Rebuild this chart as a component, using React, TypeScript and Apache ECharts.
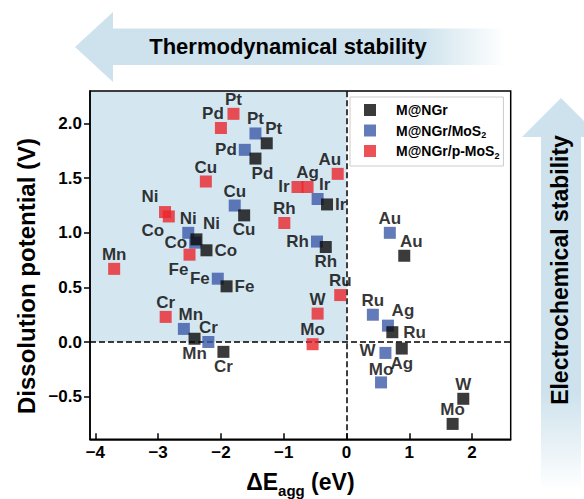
import { useEffect, useRef } from "react";
import * as echarts from "echarts";

// ΔE_agg (eV) and dissolution potential (V) of each single metal atom on three supports
const ngrMetals = ["Pt", "Pd", "Ir", "Cu", "Ni", "Co", "Rh", "Fe", "Mn", "Cr", "Au", "Ru", "Ag", "W", "Mo"];
const ngrEagg = [-1.27, -1.45, -0.31, -1.63, -2.39, -2.23, -0.33, -1.91, -2.42, -1.96, 0.92, 0.73, 0.88, 1.86, 1.69];
const ngrUdiss = [1.82, 1.68, 1.26, 1.16, 0.94, 0.84, 0.87, 0.51, 0.03, -0.09, 0.79, 0.09, -0.06, -0.52, -0.75];

const mosMetals = ["Pt", "Pd", "Ir", "Cu", "Ni", "Co", "Rh", "Fe", "Mn", "Cr", "Au", "Ru", "Ag", "W", "Mo"];
const mosEagg = [-1.45, -1.62, -0.46, -1.78, -2.52, -2.41, -0.47, -2.05, -2.59, -2.2, 0.69, 0.42, 0.66, 0.62, 0.55];
const mosUdiss = [1.91, 1.76, 1.31, 1.25, 1.0, 0.91, 0.92, 0.58, 0.12, 0.0, 1.0, 0.25, 0.15, -0.1, -0.37];

const pmosMetals = ["Pt", "Pd", "Au", "Cu", "Ir", "Ag", "Ni", "Co", "Rh", "Fe", "Mn", "Ru", "W", "Cr", "Mo"];
const pmosEagg = [-1.8, -2.0, -0.14, -2.24, -0.78, -0.62, -2.89, -2.83, -0.99, -2.5, -3.7, -0.1, -0.46, -2.88, -0.54];
const pmosUdiss = [2.09, 1.96, 1.54, 1.47, 1.42, 1.42, 1.19, 1.15, 1.09, 0.8, 0.67, 0.43, 0.26, 0.23, -0.02];

const seriesNames = ["M@NGr", "M@NGr/MoS2", "M@NGr/p-MoS2"];
const xTicks = [-4, -3, -2, -1, 0, 1, 2];
const yTicks = [-0.5, 0, 0.5, 1, 1.5, 2];

// where each element symbol is written next to its marker
const ngrTags = ["tr", "br", "r", "b", "tr2", "r", "b", "r", "b", "b", "tr", "r5", "b", "t", "t"];
const mosTags = ["t", "l", "tr", "t", "t", "l", "l", "l", "tr", "t", "t", "t", "tr2", "l2", "tin"];
const pmosTags = ["t", "tl", "tl", "t", "l", "t", "tl2", "bl", "t", "bl2", "t", "t", "t", "t", "t"];

const FONT = "'Liberation Sans', Arial, sans-serif";
const COLORS = ["#0a0a0a", "#3c5aa8", "#e8262c"];
const SHADE = "#d4e6f0";
const ARROW = "#cde2ec";

const placements: Record<string, any> = {
  t: { position: "top", distance: 0 },
  tin: { position: "top", distance: -2 },
  b: { position: "bottom", distance: 0 },
  l: { position: "left", distance: 2 },
  l2: { position: "left", distance: 4, offset: [0, -2] },
  r: { position: "right", distance: 2 },
  r5: { position: "right", distance: 5 },
  tr: { position: "top", distance: 0, offset: [7, 0] },
  tr2: { position: "top", distance: 1, offset: [15, 0] },
  tl: { position: "top", distance: 0, offset: [-8, 0] },
  tl2: { position: "top", distance: 1, offset: [-15, 0] },
  br: { position: "bottom", distance: 0, offset: [7, 0] },
  bl: { position: "bottom", distance: 0, offset: [-16, 0] },
  bl2: { position: "bottom", distance: 0, offset: [-11, 0] },
};

const minus = (s: string) => s.replace("-", "\u2212");

function points(names: string[], xs: number[], ys: number[], tags: string[]) {
  return names.map((n, i) => ({
    name: n,
    value: [xs[i], ys[i]],
    label: placements[tags[i]],
  }));
}

export default function App() {
  const ref = useRef<HTMLDivElement>(null);

  useEffect(() => {
    if (!ref.current) return;
    const chart = echarts.init(ref.current, null, { renderer: "svg" });

    const pointLabel = {
      show: true,
      formatter: "{b}",
      fontFamily: FONT,
      fontWeight: "bold",
      fontSize: 17,
      color: "#000",
    };

    const scatter = (idx: number, data: any[], z: number, extra: any = {}) => ({
      type: "scatter",
      name: seriesNames[idx],
      symbol: "rect",
      symbolSize: 12,
      z,
      itemStyle: { color: COLORS[idx] },
      label: pointLabel,
      emphasis: { disabled: true },
      data,
      ...extra,
    });

    chart.setOption({
      animation: false,
      backgroundColor: "#fff",
      textStyle: { fontFamily: FONT },
      grid: {
        left: 90,
        top: 91,
        right: 73.3,
        bottom: 59.7,
        outerBoundsMode: "none",
        containLabel: false,
        show: true,
        z: 10,
        backgroundColor: "transparent",
        borderColor: "#000",
        borderWidth: 1.5,
      },
      legend: {
        data: seriesNames,
        left: 350,
        top: 97,
        orient: "vertical",
        icon: "rect",
        itemWidth: 12,
        itemHeight: 12,
        itemGap: 2.5,
        padding: [4, 4, 6, 14],
        backgroundColor: "#fff",
        borderColor: "#cccccc",
        borderWidth: 1,
        selectedMode: false,
        formatter: (name: string) => name.replace(/S2$/, "S{sub|2}"),
        textStyle: {
          fontFamily: FONT,
          fontWeight: "bold",
          fontSize: 14,
          color: "#000",
          lineHeight: 18,
          padding: [0, 0, 0, 15],
          rich: {
            sub: {
              fontFamily: FONT,
              fontWeight: "bold",
              fontSize: 9,
              lineHeight: 18,
              verticalAlign: "bottom",
              color: "#000",
            },
          },
        },
      },
      xAxis: {
        type: "value",
        min: -4.085,
        max: 2.615,
        z: 10,
        axisLine: { show: true, onZero: false, lineStyle: { color: "#000", width: 1.5 } },
        axisTick: {
          show: true,
          inside: true,
          length: 6,
          customValues: xTicks,
          lineStyle: { color: "#000", width: 1.5 },
        },
        axisLabel: {
          customValues: xTicks,
          formatter: (v: number) => minus(String(v)),
          fontFamily: FONT,
          fontWeight: "bold",
          fontSize: 17,
          color: "#000",
          margin: 5,
        },
        splitLine: { show: false },
        name: "ΔE{sub|agg} (eV)",
        nameLocation: "middle",
        nameGap: 17,
        nameTextStyle: {
          fontFamily: FONT,
          fontWeight: "bold",
          fontSize: 23,
          color: "#000",
          lineHeight: 32,
          rich: {
            sub: {
              fontFamily: FONT,
              fontWeight: "bold",
              fontSize: 15,
              lineHeight: 32,
              verticalAlign: "bottom",
              color: "#000",
            },
          },
        },
      },
      yAxis: {
        type: "value",
        min: -0.891,
        max: 2.299,
        z: 10,
        axisLine: { show: true, onZero: false, lineStyle: { color: "#000", width: 1.5 } },
        axisTick: {
          show: true,
          inside: false,
          length: 6,
          customValues: yTicks,
          lineStyle: { color: "#000", width: 1.5 },
        },
        axisLabel: {
          customValues: yTicks,
          formatter: (v: number) => minus(v.toFixed(1)),
          fontFamily: FONT,
          fontWeight: "bold",
          fontSize: 17,
          color: "#000",
          margin: 8,
        },
        splitLine: { show: false },
      },
      series: [
        scatter(0, points(ngrMetals, ngrEagg, ngrUdiss, ngrTags), 3, {
          markArea: {
            silent: true,
            z: 1,
            itemStyle: { color: SHADE },
            data: [[{ xAxis: -4.085, yAxis: 0 }, { xAxis: 0, yAxis: 2.299 }]],
          },
          markLine: {
            silent: true,
            z: 1.5,
            symbol: ["none", "none"],
            label: { show: false },
            lineStyle: { color: "#000", width: 1.5, type: [6, 3] },
            data: [{ xAxis: 0 }, { yAxis: 0 }],
          },
        }),
        scatter(1, points(mosMetals, mosEagg, mosUdiss, mosTags), 2),
        scatter(2, points(pmosMetals, pmosEagg, pmosUdiss, pmosTags), 4),
      ],
      graphic: [
        {
          type: "text",
          silent: true,
          x: 26,
          y: 276,
          rotation: Math.PI / 2,
          style: {
            text: "Dissolution potential (V)",
            align: "center",
            verticalAlign: "middle",
            font: `bold 24px ${FONT}`,
            fill: "#000",
          },
        },
        {
          type: "polygon",
          silent: true,
          shape: {
            points: [[75, 47], [113, 12], [113, 28.5], [505, 28.5], [505, 65], [113, 65], [113, 82]],
          },
          style: {
            fill: {
              type: "linear", x: 0, y: 0, x2: 1, y2: 0,
              colorStops: [
                { offset: 0, color: ARROW },
                { offset: 0.8, color: ARROW },
                { offset: 1, color: "rgba(205,226,236,0)" },
              ],
            },
          },
        },
        {
          type: "text",
          silent: true,
          x: 288,
          y: 46.5,
          style: {
            text: "Thermodynamical stability",
            align: "center",
            verticalAlign: "middle",
            font: `bold 22px ${FONT}`,
            fill: "#000",
          },
        },
        {
          type: "polygon",
          silent: true,
          shape: {
            points: [[561, 98], [600, 137], [581, 137], [581, 490], [541, 490], [541, 137], [522, 137]],
          },
          style: {
            fill: {
              type: "linear", x: 0, y: 0, x2: 0, y2: 1,
              colorStops: [
                { offset: 0, color: ARROW },
                { offset: 0.75, color: ARROW },
                { offset: 1, color: "rgba(205,226,236,0)" },
              ],
            },
          },
        },
        {
          type: "text",
          silent: true,
          x: 560,
          y: 270,
          rotation: Math.PI / 2,
          style: {
            text: "Electrochemical stability",
            align: "center",
            verticalAlign: "middle",
            font: `bold 23px ${FONT}`,
            fill: "#000",
          },
        },
      ],
    });

    return () => chart.dispose();
  }, []);

  return (
    <div
      ref={ref}
      style={{ position: "fixed", left: 0, top: 0, width: 584, height: 499, background: "#fff" }}
    />
  );
}
